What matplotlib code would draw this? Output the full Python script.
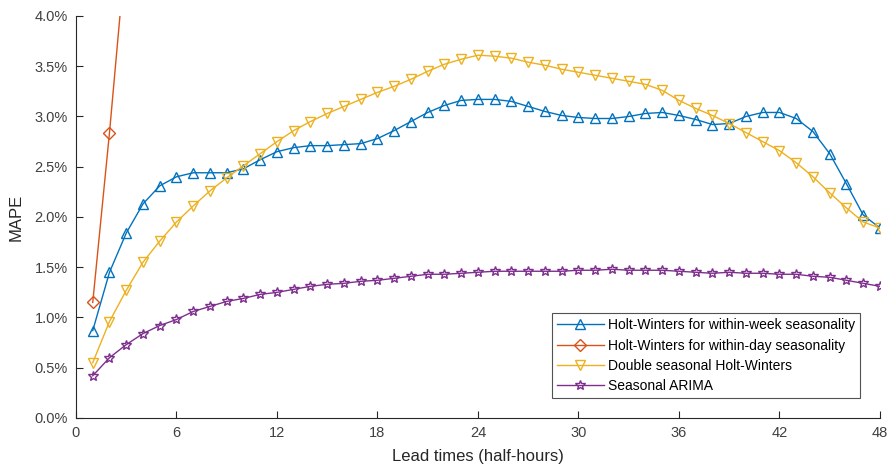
import numpy as np
import matplotlib
matplotlib.use("Agg")
import matplotlib.pyplot as plt
from matplotlib.ticker import FuncFormatter

plt.rcParams['font.family'] = ['Liberation Sans', 'DejaVu Sans']

# lead times 1..48 (half-hours)
lead = np.arange(1, 49)

hw_week = [0.87, 1.45, 1.84, 2.13, 2.31, 2.40, 2.44, 2.44, 2.44, 2.48,
           2.57, 2.65, 2.69, 2.71, 2.71, 2.72, 2.73, 2.78, 2.86, 2.95,
           3.04, 3.11, 3.16, 3.17, 3.17, 3.15, 3.10, 3.05, 3.01, 2.99,
           2.98, 2.98, 3.00, 3.03, 3.04, 3.01, 2.97, 2.92, 2.93, 3.00,
           3.04, 3.04, 2.98, 2.85, 2.63, 2.33, 2.02, 1.89]

hw_day_lead = [1, 2, 3]
hw_day = [1.15, 2.84, 4.70]

dshw = [0.55, 0.96, 1.27, 1.55, 1.76, 1.95, 2.11, 2.26, 2.39, 2.51,
        2.63, 2.75, 2.86, 2.95, 3.03, 3.10, 3.17, 3.24, 3.30, 3.37,
        3.45, 3.52, 3.57, 3.61, 3.60, 3.58, 3.54, 3.51, 3.47, 3.44,
        3.41, 3.38, 3.35, 3.32, 3.26, 3.16, 3.08, 3.01, 2.93, 2.84,
        2.75, 2.66, 2.54, 2.40, 2.24, 2.09, 1.95, 1.89]

sarima = [0.42, 0.60, 0.73, 0.84, 0.92, 0.98, 1.06, 1.11, 1.16, 1.19,
          1.23, 1.25, 1.28, 1.31, 1.33, 1.34, 1.36, 1.37, 1.39, 1.41,
          1.43, 1.43, 1.44, 1.45, 1.46, 1.46, 1.46, 1.46, 1.46, 1.47,
          1.47, 1.48, 1.47, 1.47, 1.47, 1.46, 1.45, 1.44, 1.45, 1.44,
          1.44, 1.43, 1.43, 1.41, 1.40, 1.37, 1.34, 1.31]

labels = ['Holt-Winters for within-week seasonality',
          'Holt-Winters for within-day seasonality',
          'Double seasonal Holt-Winters',
          'Seasonal ARIMA']

fig = plt.figure(figsize=(8.92, 4.73), dpi=100)
ax = fig.add_axes([0.0852, 0.1163, 0.9013, 0.8499])

ax.plot(lead, hw_week, color='#0072BD', marker='^', ms=7, mfc='none', mew=1.0, lw=1.0, label=labels[0])
ax.plot(hw_day_lead, hw_day, color='#D95319', marker='D', ms=6, mfc='none', mew=1.0, lw=1.0, label=labels[1])
ax.plot(lead, dshw, color='#EDB120', marker='v', ms=7, mfc='none', mew=1.0, lw=1.0, label=labels[2])
ax.plot(lead, sarima, color='#7E2F8E', marker='*', ms=7.5, mfc='none', mew=1.0, lw=1.0, label=labels[3])

ax.set_xlim(0, 48)
ax.set_ylim(0, 4.0)
ax.set_xticks(np.arange(0, 49, 6))
ax.set_yticks(np.arange(0, 4.01, 0.5))
ax.yaxis.set_major_formatter(FuncFormatter(lambda v, p: f"{v:.1f}%"))

for s in ['top', 'right']:
    ax.spines[s].set_visible(False)
for s in ['left', 'bottom']:
    ax.spines[s].set_color('#262626')
    ax.spines[s].set_linewidth(0.8)
ax.tick_params(direction='in', length=5, width=0.8, colors='#262626', labelsize=10.5,
               labelcolor='#404040', pad=6)

ax.set_xlabel('Lead times (half-hours)', fontsize=12, color='#262626', labelpad=6)
ax.set_ylabel('MAPE', fontsize=12, color='#262626', labelpad=8)

leg = ax.legend(loc='lower right', bbox_to_anchor=(0.9755, 0.05), fontsize=10, handlelength=3.4,
                frameon=True, fancybox=False, edgecolor='#262626', borderpad=0.35,
                labelspacing=0.45, handletextpad=0.3, borderaxespad=0)
leg.get_frame().set_linewidth(0.8)

fig.savefig('out.png', dpi=100)
